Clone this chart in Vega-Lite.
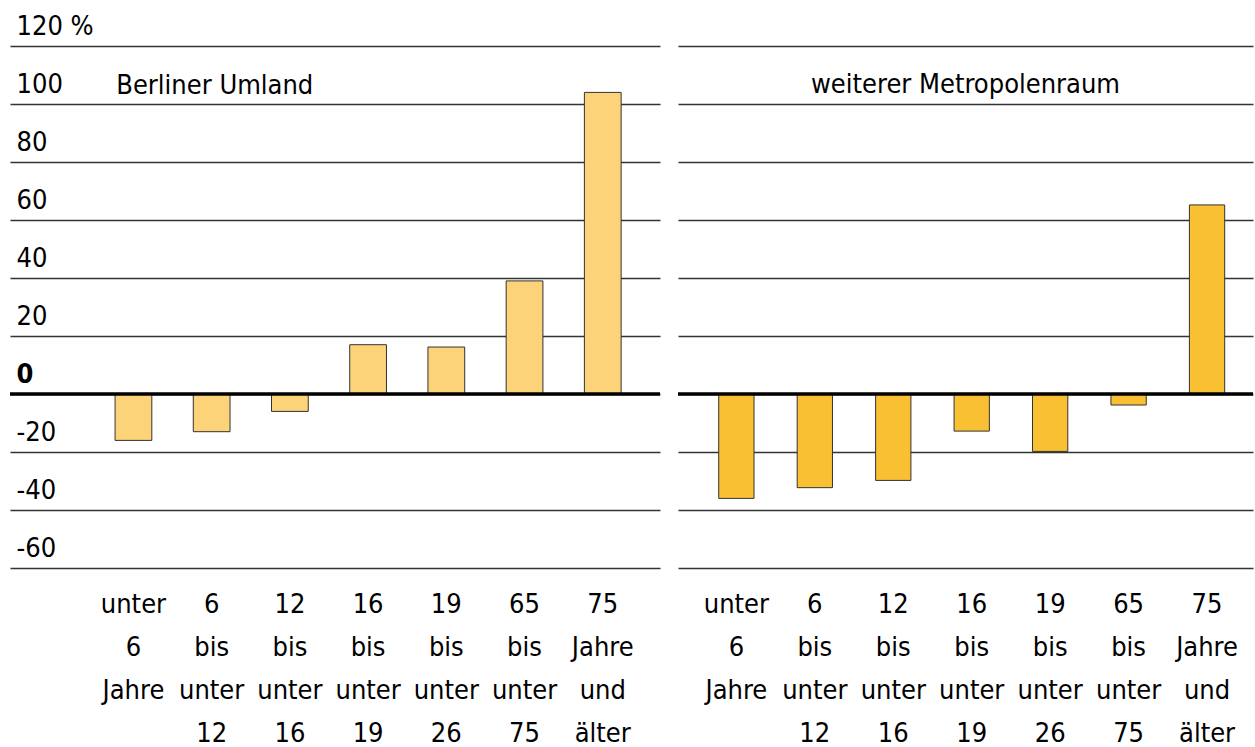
{
  "$schema": "https://vega.github.io/schema/vega-lite/v6.json",
  "padding": {"left": 8, "top": 12, "right": 0, "bottom": 0},
  "spacing": 14,
  "background": "white",
  "config": {
    "font": "DejaVu Sans Condensed",
    "view": {"stroke": null},
    "axis": {"labelFont": "DejaVu Sans Condensed", "labelFontSize": 27, "labelColor": "#000"},
    "title": {"font": "DejaVu Sans Condensed", "fontSize": 27, "fontWeight": "normal", "color": "#000"}
  },
  "datasets": {
    "umland": [
      {"gruppe": "unter 6 Jahre", "wert": -16},
      {"gruppe": "6 bis unter 12", "wert": -13},
      {"gruppe": "12 bis unter 16", "wert": -6},
      {"gruppe": "16 bis unter 19", "wert": 17},
      {"gruppe": "19 bis unter 26", "wert": 16.2},
      {"gruppe": "65 bis unter 75", "wert": 39},
      {"gruppe": "75 Jahre und älter", "wert": 104}
    ],
    "metro": [
      {"gruppe": "unter 6 Jahre", "wert": -36},
      {"gruppe": "6 bis unter 12", "wert": -32.3},
      {"gruppe": "12 bis unter 16", "wert": -29.8},
      {"gruppe": "16 bis unter 19", "wert": -12.8},
      {"gruppe": "19 bis unter 26", "wert": -19.8},
      {"gruppe": "65 bis unter 75", "wert": -3.8},
      {"gruppe": "75 Jahre und älter", "wert": 65.2}
    ],
    "zero": [{"z": 0}]
  },
  "hconcat": [
    {
      "width": 650, "height": 522,
      "title": {"text": "Berliner Umland", "anchor": "start", "dx": 108, "offset": -109, "baseline": "alphabetic"},
      "layer": [
        {
          "data": {"name": "umland"},
          "mark": {"type": "bar", "color": "#FDD37A", "stroke": "#333", "strokeWidth": 1},
          "encoding": {
            "x": {"field": "gruppe", "type": "nominal", "sort": null,
              "scale": {"paddingInner": 0.53, "paddingOuter": 0.92, "align": 0.73},
              "axis": {"title": null, "domain": false, "ticks": false, "labelAngle": 0, "labelPadding": 23, "labelLineHeight": 43, "labelBaseline": "top", "labelExpr": "split(datum.label, ' ')"}},
            "y": {"field": "wert", "type": "quantitative",
              "scale": {"domain": [-60, 120], "nice": false},
              "axis": {"title": null, "values": [-60, -40, -20, 0, 20, 40, 60, 80, 100, 120], "domain": false, "ticks": false,
                "grid": true, "gridColor": "#333", "gridWidth": 1.3,
                "labelAlign": "left", "labelPadding": -6, "labelBaseline": "alphabetic", "labelOffset": -12,
                "labelFontWeight": {"condition": {"test": "datum.value === 0", "value": "bold"}, "value": "normal"},
                "labelExpr": "datum.value === 120 ? '120 %' : toString(datum.value)"}}
          }
        },
        {
          "data": {"name": "zero"},
          "mark": {"type": "rule", "color": "#000", "strokeWidth": 3.5},
          "encoding": {"y": {"field": "z", "type": "quantitative"}}
        }
      ]
    },
    {
      "width": 575, "height": 522,
      "title": {"text": "weiterer Metropolenraum", "anchor": "middle", "dx": 0, "offset": -74, "baseline": "alphabetic"},
      "layer": [
        {
          "data": {"name": "metro"},
          "mark": {"type": "bar", "color": "#F9C034", "stroke": "#333", "strokeWidth": 1},
          "encoding": {
            "x": {"field": "gruppe", "type": "nominal", "sort": null,
              "scale": {"paddingInner": 0.55, "paddingOuter": 0.44, "align": 0.59},
              "axis": {"title": null, "domain": false, "ticks": false, "labelAngle": 0, "labelPadding": 23, "labelLineHeight": 43, "labelBaseline": "top", "labelExpr": "split(datum.label, ' ')"}},
            "y": {"field": "wert", "type": "quantitative",
              "scale": {"domain": [-60, 120], "nice": false},
              "axis": {"title": null, "values": [-60, -40, -20, 0, 20, 40, 60, 80, 100, 120], "domain": false, "ticks": false, "labels": false,
                "grid": true, "gridColor": "#333", "gridWidth": 1.3}}
          }
        },
        {
          "data": {"name": "zero"},
          "mark": {"type": "rule", "color": "#000", "strokeWidth": 3.5},
          "encoding": {"y": {"field": "z", "type": "quantitative"}}
        }
      ]
    }
  ],
  "resolve": {"scale": {"y": "independent", "x": "independent"}}
}
